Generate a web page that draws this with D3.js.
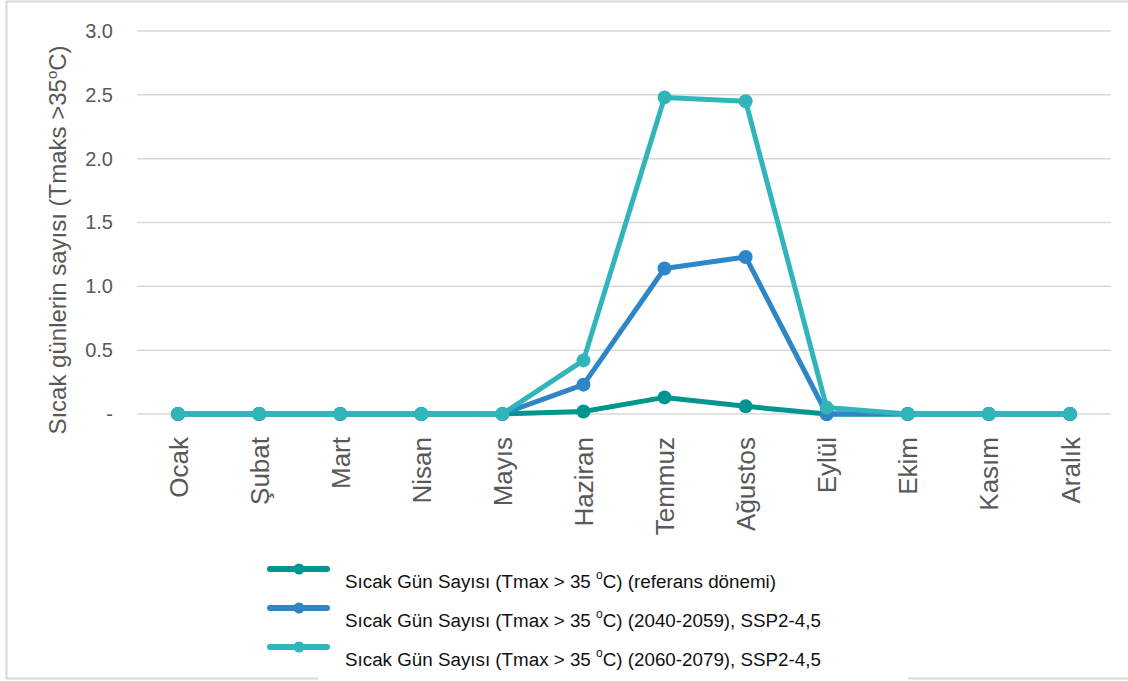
<!DOCTYPE html>
<html>
<head>
<meta charset="utf-8">
<script src="https://cdn.jsdelivr.net/npm/d3@7"></script>
<style>
  html, body { margin: 0; padding: 0; background: #fff; }
  svg { display: block; font-family: "Liberation Sans", Arial, sans-serif; }
</style>
</head>
<body>
<svg id="chart" width="1128" height="681"></svg>
<script>
const months = ["Ocak", "Şubat", "Mart", "Nisan", "Mayıs", "Haziran", "Temmuz", "Ağustos", "Eylül", "Ekim", "Kasım", "Aralık"];
const refValues = [0, 0, 0, 0, 0, 0.02, 0.13, 0.06, 0, 0, 0, 0];
const ssp2040Values = [0, 0, 0, 0, 0, 0.23, 1.14, 1.23, 0, 0, 0, 0];
const ssp2060Values = [0, 0, 0, 0, 0, 0.42, 2.48, 2.45, 0.05, 0, 0, 0];
const yTicks = [0, 0.5, 1.0, 1.5, 2.0, 2.5, 3.0];
const yTickLabels = ["-", "0.5", "1.0", "1.5", "2.0", "2.5", "3.0"];
const legendPrefix = "Sıcak Gün Sayısı (Tmax > 35 ";
const legendSuffixes = ["C) (referans dönemi)", "C) (2040-2059), SSP2-4,5", "C) (2060-2079), SSP2-4,5"];
const colors = ["#00968F", "#2E86C8", "#31B5BA"];

const svg = d3.select("#chart");

// outer frame
svg.append("rect").attr("x", 6.5).attr("y", 1.5).attr("width", 1130).attr("height", 677)
  .attr("fill", "#fff").attr("stroke", "#d9d9d9").attr("stroke-width", 2);

const x = d3.scalePoint().domain(months).range([137.5, 1110.5]).padding(0.5);
const y = d3.scaleLinear().domain([0, 3]).range([414, 31]);

// gridlines
svg.append("g").selectAll("line").data(yTicks).join("line")
  .attr("x1", 137).attr("x2", 1111)
  .attr("y1", d => y(d)).attr("y2", d => y(d))
  .attr("stroke", "#d9d9d9").attr("stroke-width", 1.5);

// y axis labels
const yAxis = d3.axisLeft(y).tickValues(yTicks).tickFormat((d, i) => yTickLabels[i]).tickSize(0).tickPadding(0);
const yg = svg.append("g").attr("transform", "translate(113,0)").call(yAxis);
yg.select(".domain").remove();
yg.selectAll("text").attr("font-size", 20).attr("fill", "#595959")
  .attr("font-family", "Liberation Sans, Arial, sans-serif");

// x axis labels
const xAxis = d3.axisBottom(x).tickSize(0).tickPadding(0);
const xg = svg.append("g").attr("transform", "translate(0,437)").call(xAxis);
xg.select(".domain").remove();
xg.selectAll("text")
  .attr("font-size", 26).attr("fill", "#595959")
  .attr("font-family", "Liberation Sans, Arial, sans-serif")
  .attr("text-anchor", "end")
  .attr("transform", "rotate(-90)")
  .attr("x", 0).attr("y", 0).attr("dy", "0.35em");

// y title
const title = svg.append("text")
  .attr("transform", "translate(66,240) rotate(-90)")
  .attr("text-anchor", "middle")
  .attr("font-size", 24).attr("fill", "#595959");
title.append("tspan").text("Sıcak günlerin sayısı (Tmaks >35");
title.append("tspan").attr("font-size", 15).attr("dy", -9).text("o");
title.append("tspan").attr("dy", 9).text("C)");

// lines
const allSeries = [refValues, ssp2040Values, ssp2060Values];
const line = d3.line().x((d, i) => x(months[i])).y(d => y(d));
allSeries.forEach((vals, si) => {
  const g = svg.append("g");
  g.append("path").datum(vals).attr("d", line)
    .attr("fill", "none").attr("stroke", colors[si]).attr("stroke-width", 5)
    .attr("stroke-linejoin", "round");
  g.selectAll("circle").data(vals).join("circle")
    .attr("cx", (d, i) => x(months[i])).attr("cy", d => y(d)).attr("r", 7)
    .attr("fill", colors[si]);
});

// cover bottom frame under legend
svg.append("rect").attr("x", 318).attr("y", 674).attr("width", 590).attr("height", 7).attr("fill", "#fff");

// legend
const legendY = [569, 608, 647];
const legend = svg.append("g");
legendSuffixes.forEach((suf, i) => {
  const g = legend.append("g");
  g.append("line").attr("x1", 270).attr("x2", 327).attr("y1", legendY[i]).attr("y2", legendY[i])
    .attr("stroke", colors[i]).attr("stroke-width", 6).attr("stroke-linecap", "round");
  g.append("circle").attr("cx", 299).attr("cy", legendY[i]).attr("r", 5.5).attr("fill", colors[i]);
  const t = g.append("text").attr("x", 345).attr("y", legendY[i] + 19)
    .attr("font-size", 18.8).attr("fill", "#111");
  t.append("tspan").text(legendPrefix);
  t.append("tspan").attr("font-size", 12).attr("dy", -9).text("o");
  t.append("tspan").attr("dy", 9).text(suf);
});
</script>
</body>
</html>
